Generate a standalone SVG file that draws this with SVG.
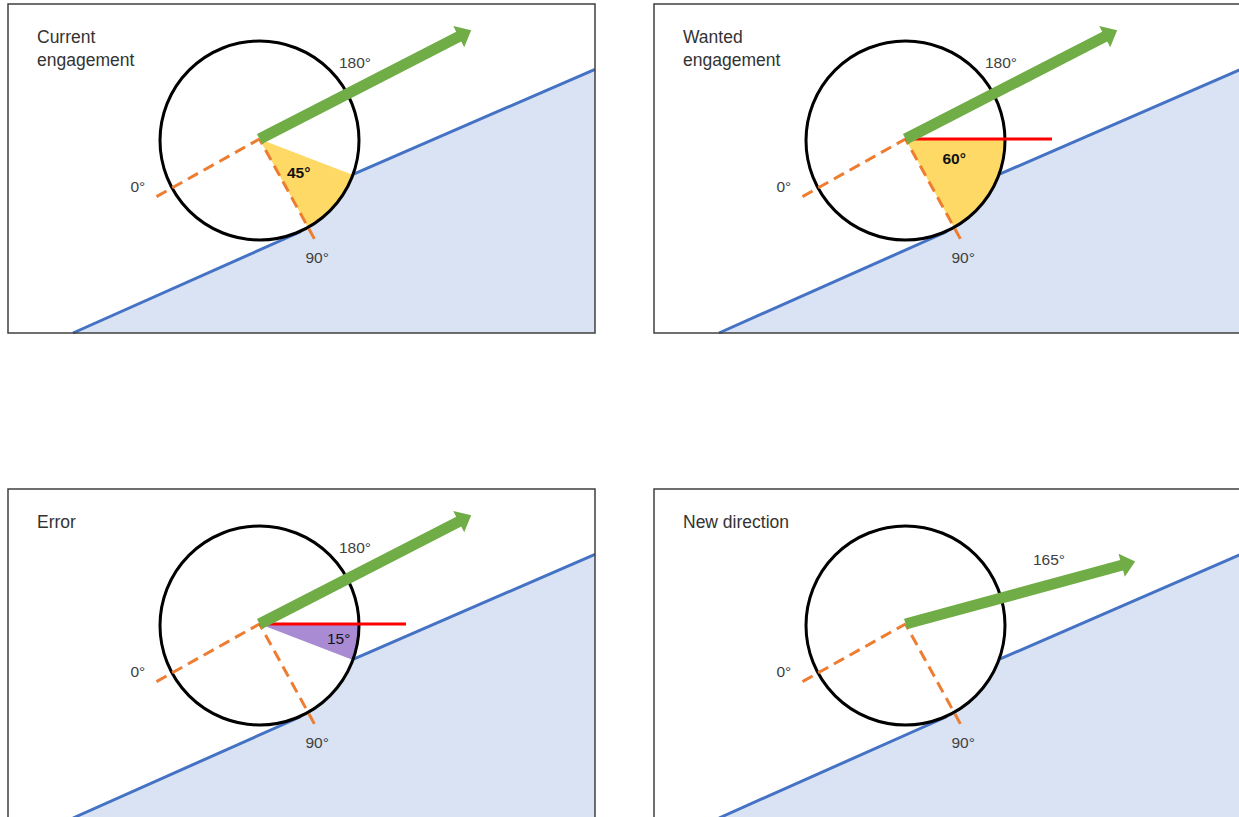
<svg xmlns="http://www.w3.org/2000/svg" xmlns:xlink="http://www.w3.org/1999/xlink" width="1239" height="817" viewBox="0 0 1239 817">
<style>
.bg{fill:#fff}
.frame{fill:none;stroke:#3f3f3f;stroke-width:1.5}
.ground{fill:#DAE3F3}
.gline{fill:none;stroke:#4472C4;stroke-width:3;stroke-linejoin:round}
.wfill{fill:#fff}
.wring{fill:none;stroke:#000;stroke-width:3}
.dash{fill:none;stroke:#ED7D31;stroke-width:3;stroke-dasharray:11.5 6.5}
.arrow{fill:#70AD47}
.red{stroke:#FF0000;stroke-width:3}
.yel{fill:#FFD966}
.pur{fill:#A98BD3}
.t{font-family:"Liberation Sans",Arial,sans-serif;font-size:15.5px;fill:#404040}
.title{font-size:17.5px;fill:#333}
.b{font-weight:bold;fill:#111}
</style>
<defs>
<g id="base">
<polygon class="ground" points="73,333 300,232 330,184.4 595,69.3 595,333"/>
<polyline class="gline" points="73,333 300,232 330,184.4 595,69.3"/>
<rect class="frame" x="8" y="4" width="587" height="329"/>
<circle class="wfill" cx="259.5" cy="140.5" r="99.5"/>
</g>
<g id="axes">
<circle class="wring" cx="259.5" cy="140.5" r="99.5"/>
<line class="dash" x1="156.5" y1="196.6" x2="259.5" y2="139"/>
<line class="dash" x1="314.4" y1="238.9" x2="259.5" y2="139"/>
<text class="t" x="130.5" y="192">0°</text>
<text class="t" x="305.5" y="263">90°</text>
</g>
<path id="arrowShape" class="arrow" d="M0,-5.5 H224 V-12 L238,0 L224,12 V5.5 H0 Z"/>
</defs>
<rect class="bg" x="0" y="0" width="1239" height="817"/>

<g id="panel-current">
<use xlink:href="#base"/>
<path class="yel" d="M259.5,139 L307.4,226.2 A99.5,99.5 0 0 0 352.4,174.7 Z"/>
<use xlink:href="#axes"/>
<use xlink:href="#arrowShape" transform="translate(259.5,139) rotate(-27.2)"/>
<text class="t title" x="37" y="43">Current</text>
<text class="t title" x="37" y="66">engagement</text>
<text class="t" x="339" y="68">180°</text>
<text class="t b" x="287" y="178">45°</text>
</g>

<g id="panel-wanted" transform="translate(646,0)">
<use xlink:href="#base"/>
<path class="yel" d="M259.5,139 L307.4,226.2 A99.5,99.5 0 0 0 359,139 Z"/>
<use xlink:href="#axes"/>
<line class="red" x1="259.5" y1="139" x2="406" y2="139"/>
<use xlink:href="#arrowShape" transform="translate(259.5,139) rotate(-27.2)"/>
<text class="t title" x="37" y="43">Wanted</text>
<text class="t title" x="37" y="66">engagement</text>
<text class="t" x="339" y="68">180°</text>
<text class="t b" x="296.5" y="164">60°</text>
</g>

<g id="panel-error" transform="translate(0,485)">
<use xlink:href="#base"/>
<path class="pur" d="M259.5,139 L359,139 A99.5,99.5 0 0 1 352.4,174.7 Z"/>
<use xlink:href="#axes"/>
<line class="red" x1="259.5" y1="139" x2="406" y2="139"/>
<use xlink:href="#arrowShape" transform="translate(259.5,139) rotate(-27.2)"/>
<text class="t title" x="37" y="43">Error</text>
<text class="t" x="339" y="68">180°</text>
<text class="t" x="327" y="158.5" style="fill:#111">15°</text>
</g>

<g id="panel-new" transform="translate(646,485)">
<use xlink:href="#base"/>
<use xlink:href="#axes"/>
<use xlink:href="#arrowShape" transform="translate(259.5,139) rotate(-15.2)"/>
<text class="t title" x="37" y="43">New direction</text>
<text class="t" x="387" y="80">165°</text>
</g>
</svg>
